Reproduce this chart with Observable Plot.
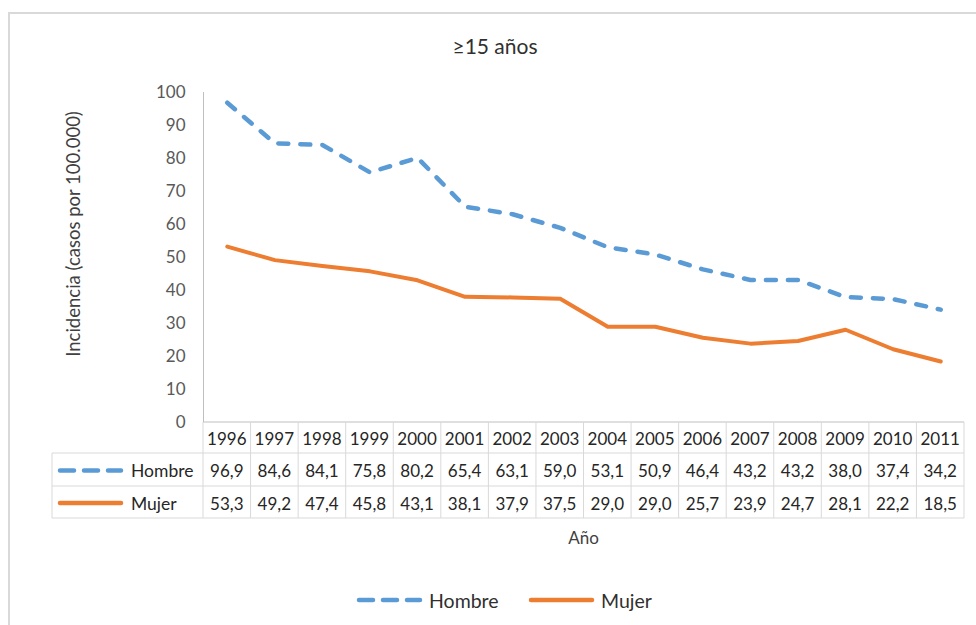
<!DOCTYPE html>
<html><head><meta charset="utf-8">
<script src="https://cdn.jsdelivr.net/npm/d3@7"></script>
<script src="https://cdn.jsdelivr.net/npm/@observablehq/plot@0.6"></script>
<style>
body{margin:0;background:#fff;font-family:Lato,"Open Sans",sans-serif;}
#wrap{position:relative;width:976px;height:625px;overflow:hidden;background:#fff}
#frame{position:absolute;left:8px;top:12px;width:980px;height:640px;border-top:2px solid #d9d9d9;border-left:2px solid #d9d9d9;box-sizing:border-box}
#title{position:absolute;left:0;width:990px;top:33px;text-align:center;font-size:21px;color:#303030}
#legend{position:absolute;top:587px;left:0;width:976px;height:26px;font-size:19.5px;color:#303030}
#legend .it{position:absolute;top:0;display:flex;align-items:center;height:26px}
#chart{position:absolute;left:0;top:0}
</style></head><body>
<div id="wrap">
<div id="frame"></div>
<div id="chart"></div>
<div id="title">≥15 años</div>
<div id="legend"></div>
</div>
<script>
const years = ["1996","1997","1998","1999","2000","2001","2002","2003","2004","2005","2006","2007","2008","2009","2010","2011"];
const hombre = [96.9,84.6,84.1,75.8,80.2,65.4,63.1,59.0,53.1,50.9,46.4,43.2,43.2,38.0,37.4,34.2];
const mujer = [53.3,49.2,47.4,45.8,43.1,38.1,37.9,37.5,29.0,29.0,25.7,23.9,24.7,28.1,22.2,18.5];
const yTicks = [0,10,20,30,40,50,60,70,80,90,100];
const seriesNames = ["Hombre","Mujer"];
const seriesColors = ["#5B9BD5","#ED7D31"];
const yTitle = "Incidencia (casos por 100.000)";
const xTitle = "Año";
const chartTitle = "≥15 años";

const fmt = v => v.toFixed(1).replace(".", ",");
const hData = years.map((y,i)=>({year:y, value:hombre[i]}));
const mData = years.map((y,i)=>({year:y, value:mujer[i]}));

const W = 976, H = 625, mL = 203, mR = 12, mT = 92, mB = 203;
const step = (W - mL - mR) / years.length;
const DASH = "10,12";

const plot = Plot.plot({
  width: W, height: H,
  marginLeft: mL, marginRight: mR, marginTop: mT, marginBottom: mB,
  style: {fontFamily: "Lato, 'Open Sans', sans-serif", fontSize: "16px", background: "transparent", overflow: "visible"},
  x: {type: "band", domain: years, padding: 0, round: false, axis: null},
  y: {domain: [0, 100], axis: null},
  marks: [
    Plot.axisY({ticks: yTicks, tickSize: 0, tickPadding: 18, label: null, fill: "#595959", fontSize: 17}),
    Plot.ruleX([years[0]], {dx: -step/2, stroke: "#bfbfbf", strokeWidth: 1}),
    Plot.line(mData, {x: "year", y: "value", stroke: seriesColors[1], strokeWidth: 4, strokeLinecap: "round", strokeLinejoin: "round"}),
    Plot.line(hData, {x: "year", y: "value", stroke: seriesColors[0], strokeWidth: 4.5, strokeDasharray: DASH, strokeLinecap: "round", strokeLinejoin: "round"})
  ]
});
document.getElementById("chart").appendChild(plot);

// Data table below the axis, aligned to the band scale
const xs = plot.scale("x");
const ys = plot.scale("y");
const svg = d3.select(plot);
const g = svg.append("g");
const y0 = ys.apply(0);
const rowH = [31, 33, 32];
const rTop = [y0, y0 + rowH[0], y0 + rowH[0] + rowH[1]];
const rBot = y0 + rowH[0] + rowH[1] + rowH[2];
const tableLeft = 52;
const xLeft = xs.apply(years[0]);
const xRight = xs.apply(years[years.length-1]) + xs.bandwidth;
const grid = "#d9d9d9";

// horizontal lines
g.append("line").attr("x1", xLeft).attr("x2", xRight).attr("y1", y0).attr("y2", y0).attr("stroke", "#bfbfbf");
[rTop[1], rTop[2], rBot].forEach(yy => g.append("line").attr("x1", tableLeft).attr("x2", xRight).attr("y1", yy).attr("y2", yy).attr("stroke", grid));
// vertical lines
years.forEach(yr => {
  const x = xs.apply(yr) + xs.bandwidth;
  g.append("line").attr("x1", x).attr("x2", x).attr("y1", y0).attr("y2", rBot).attr("stroke", grid);
});
g.append("line").attr("x1", xLeft).attr("x2", xLeft).attr("y1", y0).attr("y2", rBot).attr("stroke", grid);
g.append("line").attr("x1", tableLeft).attr("x2", tableLeft).attr("y1", rTop[1]).attr("y2", rBot).attr("stroke", grid);

const cellText = (x, y, t, anchor="middle") => g.append("text").attr("x", x).attr("y", y)
  .attr("text-anchor", anchor).attr("dominant-baseline", "central")
  .attr("font-size", 17).attr("fill", "#262626").text(t);

years.forEach((yr,i) => {
  const cx = xs.apply(yr) + xs.bandwidth/2;
  cellText(cx, rTop[0] + rowH[0]/2 + 1, yr);
  cellText(cx, rTop[1] + rowH[1]/2 + 1, fmt(hombre[i]));
  cellText(cx, rTop[2] + rowH[2]/2 + 1, fmt(mujer[i]));
});
// series keys in table
[0,1].forEach(k => {
  const yy = rTop[k+1] + rowH[k+1]/2 + 1;
  const ln = g.append("line").attr("x1", 60).attr("x2", 121).attr("y1", yy).attr("y2", yy)
    .attr("stroke", seriesColors[k]).attr("stroke-width", 4.5).attr("stroke-linecap", "round");
  if (k === 0) ln.attr("stroke-dasharray", "14,10");
  cellText(131, yy, seriesNames[k], "start").attr("font-size", 17.5);
});

// axis titles
svg.append("text").attr("x", (xLeft + xRight)/2).attr("y", 537).attr("text-anchor", "middle")
  .attr("dominant-baseline", "central").attr("font-size", 17).attr("fill", "#404040").text(xTitle);
svg.append("text").attr("transform", `translate(73,${(ys.apply(0)+ys.apply(100))/2 - 23}) rotate(-90)`)
  .attr("text-anchor", "middle").attr("dominant-baseline", "central")
  .attr("font-size", 18.5).attr("fill", "#404040").text(yTitle);

// legend
const leg = document.getElementById("legend");
const legPos = [356, 528];
seriesNames.forEach((n,k) => {
  const d = document.createElement("div");
  d.className = "it"; d.style.left = legPos[k] + "px";
  d.innerHTML = `<svg width="68" height="26"><line x1="3" x2="64" y1="13" y2="13" stroke="${seriesColors[k]}" stroke-width="4.5" stroke-linecap="round" ${k===0?'stroke-dasharray="14,10"':''}/></svg><span style="margin-left:5px">${n}</span>`;
  leg.appendChild(d);
});
</script>
</body></html>
